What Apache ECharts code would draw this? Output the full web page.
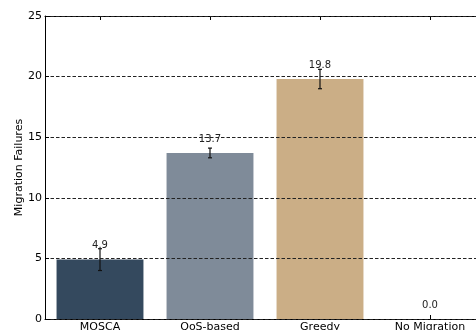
<!DOCTYPE html>
<html>
<head>
<meta charset="utf-8">
<script src="https://cdn.jsdelivr.net/npm/echarts@6/dist/echarts.min.js"></script>
<style>
  html, body { margin: 0; padding: 0; background: #fff; }
  #chart { width: 476px; height: 330px; }
</style>
</head>
<body>
<div id="chart"></div>
<script>
// Mean migration failures per strategy, with error bar half-widths
const categories = ['MOSCA', 'QoS-based', 'Greedy', 'No Migration'];
const failures = [4.9, 13.7, 19.8, 0.0];
const errors = [0.9, 0.4, 0.8, 0.0];
const barColors = ['#34495e', '#7f8b99', '#cbae86', '#bdc3c7'];
const yTicks = [0, 5, 10, 15, 20, 25];

const FONT = 'DejaVu Sans';
const chart = echarts.init(document.getElementById('chart'), null, { renderer: 'canvas' });

const barData = failures.map((v, i) => ({
  value: v,
  itemStyle: { color: barColors[i] }
}));

const errData = failures.map((v, i) => [i, v - errors[i], v + errors[i]]);

chart.setOption({
  animation: false,
  backgroundColor: '#fff',
  grid: {
    left: 45, top: 16, width: 440, height: 303,
    show: false,
    containLabel: false,
    outerBoundsMode: 'none'
  },
  xAxis: [
    {
      type: 'category',
      data: categories,
      position: 'bottom',
      axisLine: { show: true, lineStyle: { color: '#000', width: 1 } },
      axisTick: { show: true, inside: true, alignWithLabel: true, length: 4, lineStyle: { color: '#000' } },
      axisLabel: { color: '#000', fontFamily: FONT, fontSize: 11, margin: 3 },
      splitLine: { show: false }
    },
    {
      type: 'category',
      data: categories,
      position: 'top',
      axisLine: { show: true, lineStyle: { color: '#000', width: 1 } },
      axisTick: { show: true, inside: true, alignWithLabel: true, length: 4, lineStyle: { color: '#000' } },
      axisLabel: { show: false }
    }
  ],
  yAxis: {
    type: 'value',
    min: yTicks[0],
    max: yTicks[yTicks.length - 1],
    interval: 5,
    z: 5,
    name: 'Migration Failures',
    nameLocation: 'middle',
    nameGap: 20,
    nameRotate: 90,
    nameMoveOverlap: false,
    nameTextStyle: { color: '#000', fontFamily: FONT, fontSize: 11 },
    axisLine: { show: true, lineStyle: { color: '#000', width: 1 } },
    axisTick: { show: true, inside: true, length: 4, lineStyle: { color: '#000' } },
    axisLabel: { color: '#000', fontFamily: FONT, fontSize: 11, margin: 3 },
    splitLine: { show: true, lineStyle: { color: '#222', type: [3.5, 2], width: 1 } }
  },
  series: [
    {
      type: 'bar',
      data: barData,
      barCategoryGap: '21%',
      z: 2,
      label: {
        show: true,
        position: 'top',
        distance: 9,
        color: '#222',
        fontFamily: FONT,
        fontSize: 10,
        formatter: p => p.value.toFixed(1)
      }
    },
    {
      type: 'custom',
      z: 3,
      data: errData,
      renderItem: function (params, api) {
        const x = api.value(0);
        const lo = api.coord([x, api.value(1)]);
        const hi = api.coord([x, api.value(2)]);
        if (Math.abs(hi[1] - lo[1]) < 0.5) return null;
        const cap = 2;
        const style = { stroke: '#111', lineWidth: 1.2 };
        return {
          type: 'group',
          children: [
            { type: 'line', shape: { x1: lo[0], y1: lo[1], x2: hi[0], y2: hi[1] }, style },
            { type: 'line', shape: { x1: lo[0] - cap, y1: lo[1], x2: lo[0] + cap, y2: lo[1] }, style },
            { type: 'line', shape: { x1: hi[0] - cap, y1: hi[1], x2: hi[0] + cap, y2: hi[1] }, style }
          ]
        };
      }
    }
  ]
});
</script>
</body>
</html>
